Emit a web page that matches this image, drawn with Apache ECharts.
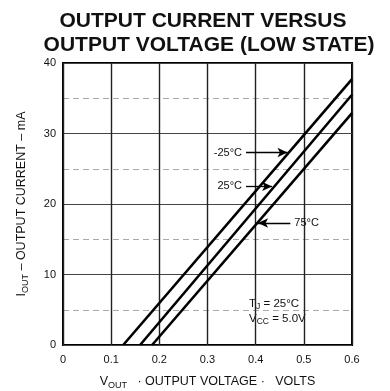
<!DOCTYPE html>
<html><head><meta charset="utf-8">
<script src="https://cdn.jsdelivr.net/npm/echarts@6/dist/echarts.min.js"></script>
<style>html,body{margin:0;padding:0;background:#fff}#c{width:390px;height:391px}</style>
</head><body><div id="c"></div>
<script>
// Data (Vout in volts, Iout in mA)
const xTicks = [0, 0.1, 0.2, 0.3, 0.4, 0.5, 0.6];
const yTicks = [0, 10, 20, 30, 40];
const vNeg25 = [0.125, 0.6];  const iNeg25 = [0, 37.7];
const v25    = [0.16, 0.6];   const i25    = [0, 35.5];
const v75    = [0.185, 0.6];  const i75    = [0, 32.9];
// annotation arrows: [label, startV, endV, I]
const arrowNeg25 = ['-25°C', 0.38, 0.466, 27.3];
const arrow25    = ['25°C', 0.38, 0.434, 22.5];
const arrow75    = ['75°C', 0.472, 0.405, 17.3];

const FONT = 'Liberation Sans';
const pairs = (v, i) => v.map((x, k) => [x, i[k]]);
const arrowMark = a => ({
  silent: true,
  symbol: ['none', 'arrow'], symbolSize: [7, 10],
  lineStyle: { color: '#000', width: 1.3, type: 'solid' },
  label: { show: true, position: 'start', formatter: a[0], color: '#111', fontFamily: FONT, fontSize: 11, distance: 4 },
  data: [[{ coord: [a[1], a[3]] }, { coord: [a[2], a[3]] }]]
});
const lineSeries = (name, v, i, a) => ({
  name, type: 'line', data: pairs(v, i), symbol: 'none',
  lineStyle: { color: '#000', width: 2.6 }, animation: false,
  markLine: arrowMark(a)
});

const chart = echarts.init(document.getElementById('c'));
chart.setOption({
  animation: false,
  grid: { left: 63, right: 38, top: 63, bottom: 46, show: true, borderColor: '#000', borderWidth: 2,
          containLabel: false, outerBoundsMode: 'none' },
  xAxis: {
    type: 'value', min: 0, max: 0.6, interval: 0.1,
    axisLine: { show: false }, axisTick: { show: false },
    axisLabel: { color: '#111', fontFamily: FONT, fontSize: 11, margin: 9,
      formatter: v => { const t = xTicks.find(x => Math.abs(x - v) < 1e-9); return t === undefined ? '' : String(t); } },
    splitLine: { show: true, lineStyle: { color: '#222', width: 1.4 } },
    name: '{v|V}{s|OUT}{n|   · OUTPUT VOLTAGE ·   VOLTS}', nameLocation: 'middle', nameGap: 29,
    nameTextStyle: { rich: {
      v: { fontFamily: FONT, fontSize: 12.5, color: '#111' },
      s: { fontFamily: FONT, fontSize: 9, color: '#111', padding: [7, 0, 0, 0] },
      n: { fontFamily: FONT, fontSize: 12.5, color: '#111' } } }
  },
  yAxis: {
    type: 'value', min: 0, max: 40, interval: 10,
    axisLine: { show: false }, axisTick: { show: false },
    axisLabel: { color: '#111', fontFamily: FONT, fontSize: 11, margin: 7,
      formatter: v => yTicks.includes(v) ? String(v) : '' },
    splitLine: { show: true, lineStyle: { color: '#444', width: 1.2 } },
    minorTick: { show: false, splitNumber: 2 },
    minorSplitLine: { show: true, lineStyle: { color: '#aaa', width: 1, type: [6, 4] } },
    name: '{i|I}{s|OUT}{n| – OUTPUT CURRENT – mA}', nameLocation: 'middle', nameGap: 33,
    nameTextStyle: { rich: {
      i: { fontFamily: FONT, fontSize: 12.5, color: '#111' },
      s: { fontFamily: FONT, fontSize: 9, color: '#111', padding: [7, 0, 0, 0] },
      n: { fontFamily: FONT, fontSize: 12.5, color: '#111' } } }
  },
  graphic: [
    { type: 'text', x: 203, y: 11, style: { text: 'OUTPUT CURRENT VERSUS', font: 'bold 21px "Liberation Sans"', fill: '#111', textAlign: 'center', textVerticalAlign: 'top' } },
    { type: 'text', x: 209, y: 35, style: { text: 'OUTPUT VOLTAGE (LOW STATE)', font: 'bold 21px "Liberation Sans"', fill: '#111', textAlign: 'center', textVerticalAlign: 'top' } },
    { type: 'text', x: 249, y: 296, style: { text: '{a|T}{s|J}{a| = 25°C}\n{a|V}{s|CC}{a| = 5.0V}', rich: {
        a: { fontFamily: FONT, fontSize: 11.5, fill: '#111', lineHeight: 15 },
        s: { fontFamily: FONT, fontSize: 8.5, fill: '#111', padding: [6, 0, 0, 0], lineHeight: 15 } } } }
  ],
  series: [
    lineSeries('-25°C', vNeg25, iNeg25, arrowNeg25),
    lineSeries('25°C', v25, i25, arrow25),
    lineSeries('75°C', v75, i75, arrow75)
  ]
});
</script></body></html>
